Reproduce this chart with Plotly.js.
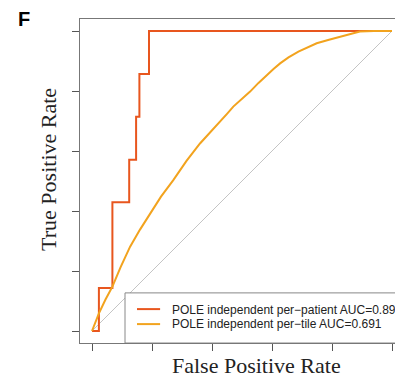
<!DOCTYPE html>
<html>
<head>
<meta charset="utf-8">
<script src="https://cdn.plot.ly/plotly-3.0.1.min.js"></script>
<style>html,body{margin:0;padding:0;background:#fff;}#chart{width:395px;height:379px;}</style>
</head>
<body>
<div id="chart"></div>
<script>
// Per-patient ROC (step curve)
const patientFPR = [0, 0.023, 0.068, 0.124, 0.147, 0.158, 0.19, 1];
const patientTPR = [0, 0.143, 0.429, 0.571, 0.714, 0.857, 1, 1];
// Per-tile ROC
const tileFPR = [0, 0.023, 0.045, 0.068, 0.095, 0.127, 0.16, 0.193, 0.23, 0.271, 0.315, 0.36, 0.40, 0.427, 0.45, 0.471, 0.5, 0.527, 0.555, 0.582, 0.605, 0.627, 0.655, 0.688, 0.72, 0.749, 0.79, 0.827, 0.86, 0.893, 0.94, 1];
const tileTPR = [0, 0.059, 0.105, 0.148, 0.212, 0.281, 0.338, 0.392, 0.448, 0.503, 0.567, 0.625, 0.668, 0.698, 0.724, 0.748, 0.774, 0.798, 0.827, 0.853, 0.873, 0.892, 0.912, 0.931, 0.947, 0.959, 0.971, 0.981, 0.991, 0.998, 1.0, 1];
const diagX = [0, 1];
const diagY = [0, 1];
const tickVals = [0, 0.2, 0.4, 0.6, 0.8, 1];
const legendLabels = ["POLE independent per\u2212patient AUC=0.89", "POLE independent per\u2212tile AUC=0.691"];
const colors = ["#E8561E", "#F2A31E"];

const traces = [
  {x: diagX, y: diagY, mode: 'lines', line: {color: '#c4c4c4', width: 1}, hoverinfo: 'skip'},
  {x: patientFPR, y: patientTPR, mode: 'lines', line: {color: colors[0], width: 2, shape: 'hv'}},
  {x: tileFPR, y: tileTPR, mode: 'lines', line: {color: colors[1], width: 2}}
];

const layout = {
  width: 395, height: 379,
  margin: {l: 80, r: 0, t: 19, b: 36},
  showlegend: false,
  paper_bgcolor: '#fff', plot_bgcolor: '#fff',
  xaxis: {range: [-0.04, 1.01], tickvals: tickVals, showticklabels: false, ticks: 'outside', ticklen: 7,
          tickcolor: '#555', showgrid: false, zeroline: false, showline: true, mirror: true,
          linecolor: '#777', linewidth: 1},
  yaxis: {range: [-0.04, 1.04], tickvals: tickVals, showticklabels: false, ticks: 'outside', ticklen: 7,
          tickcolor: '#555', showgrid: false, zeroline: false, showline: true, mirror: false,
          linecolor: '#777', linewidth: 1},
  shapes: [
    {type: 'rect', xref: 'x', yref: 'y', x0: 0.11, x1: 1.2, y0: -0.04, y1: 0.127,
     fillcolor: '#fff', line: {color: '#888', width: 1}, layer: 'above'},
    {type: 'line', xref: 'x', yref: 'y', x0: 0.15, x1: 0.227, y0: 0.073, y1: 0.073,
     line: {color: colors[0], width: 2}, layer: 'above'},
    {type: 'line', xref: 'x', yref: 'y', x0: 0.15, x1: 0.227, y0: 0.023, y1: 0.023,
     line: {color: colors[1], width: 2}, layer: 'above'}
  ],
  annotations: [
    {text: legendLabels[0], xref: 'x', yref: 'y', x: 0.26, y: 0.071, xanchor: 'left', yanchor: 'middle',
     showarrow: false, font: {family: 'Liberation Sans, Arial, sans-serif', size: 12, color: '#222'}},
    {text: legendLabels[1], xref: 'x', yref: 'y', x: 0.26, y: 0.024, xanchor: 'left', yanchor: 'middle',
     showarrow: false, font: {family: 'Liberation Sans, Arial, sans-serif', size: 12, color: '#222'}},
    {text: 'False Positive Rate', xref: 'x', yref: 'paper', x: 0.547, y: 0, yshift: -22,
     xanchor: 'center', yanchor: 'middle', showarrow: false,
     font: {family: 'Liberation Serif, Times New Roman, serif', size: 22, color: '#222'}},
    {text: 'True Positive Rate', xref: 'paper', yref: 'y', x: 0, xshift: -31, y: 0.537,
     xanchor: 'center', yanchor: 'middle', textangle: -90, showarrow: false,
     font: {family: 'Liberation Serif, Times New Roman, serif', size: 22, color: '#222'}},
    {text: '<b>F</b>', xref: 'paper', yref: 'paper', x: -0.178, y: 1, yshift: 0,
     xanchor: 'center', yanchor: 'middle', showarrow: false,
     font: {family: 'Liberation Sans, Arial, sans-serif', size: 20, color: '#000'}}
  ]
};

Plotly.newPlot('chart', traces, layout, {displayModeBar: false, staticPlot: true});
</script>
</body>
</html>
